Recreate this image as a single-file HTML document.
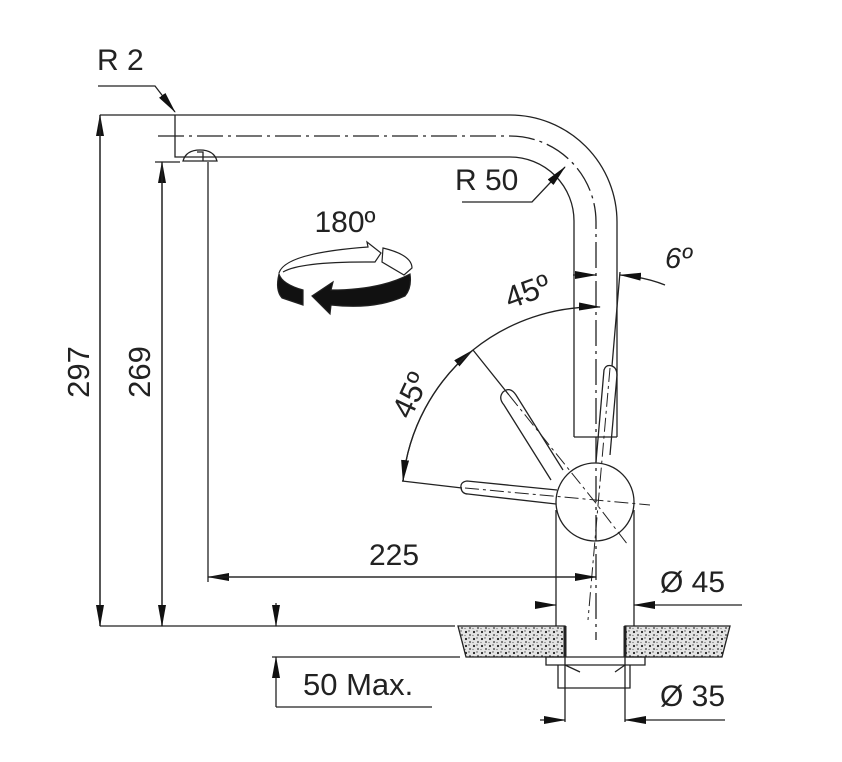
<!DOCTYPE html>
<html><head><meta charset="utf-8"><style>html,body{margin:0;padding:0;background:#fff}svg{display:block}text{font-family:"Liberation Sans",Arial,sans-serif;fill:#222}</style></head>
<body>
<svg width="842" height="762" viewBox="0 0 842 762" xmlns="http://www.w3.org/2000/svg">
<defs>
<marker id="a" markerWidth="22" markerHeight="8" refX="21" refY="4" orient="auto" markerUnits="userSpaceOnUse"><path d="M0,0 L22,4 L0,8 z" fill="#111"/></marker>
<pattern id="dots" width="8" height="7" patternUnits="userSpaceOnUse"><rect width="8" height="7" fill="#e4e4e4"/><circle cx="2" cy="2" r="1.1" fill="#222"/><circle cx="6" cy="5" r="0.9" fill="#333"/><circle cx="5" cy="1" r="0.7" fill="#555"/><circle cx="1" cy="5.5" r="0.6" fill="#666"/></pattern>
</defs>
<g stroke="#222" stroke-width="1.3" fill="none">
<path d="M175,115 L510,115 A107,107 0 0 1 617,222 L617,437"/>
<path d="M175,115 L175,157 L510,157 A64,64 0 0 1 574,221 L574,437"/>
<path d="M158,136 L510,136 A86,86 0 0 1 596,222 L596,640" stroke-dasharray="26,5,3,5"/>
<path d="M574,437 L617,437"/>
<path d="M183,161 Q186,150 200,150 Q214,150 217,161 Z"/>
<path d="M197,152 h6 v9"/>
<circle cx="595" cy="502" r="39"/>
<path d="M556,510 L556,626 M634,510 L634,626"/>
<path d="M563,470 L516,395 Q510,386 503,392 Q498,398 504,405 L551,480"/>
<path d="M509,395 L595,502 L628,545" stroke-dasharray="14,4,3,4" stroke-width="1"/>
<path d="M557,490 L467,481 Q460,482 461,488 Q462,494 468,494 L556,504"/>
<path d="M465,488 L650,505" stroke-dasharray="14,4,3,4" stroke-width="1"/>
<path d="M596,462 L604,370 Q606,364 612,366 Q617,368 617,375 L610,455"/>
<path d="M610,368 L588,620" stroke-dasharray="14,4,3,4" stroke-width="1"/>
<path d="M509,395 L473,350 M462,488 L402,481 M612,366 L620,272"/>
<path d="M403,481 A195,195 0 0 1 473,350" marker-end="url(#a)"/>
<path d="M473,350 A195,195 0 0 0 403,481" marker-end="url(#a)"/>
<path d="M473,350 A195,195 0 0 1 600,307" marker-end="url(#a)"/>
<path d="M573,275 L596,275" marker-end="url(#a)"/>
<path d="M665,285 Q645,277 620,275" marker-end="url(#a)"/>
<path d="M458,626 L565,626 L565,657 L466,657 Z" fill="url(#dots)"/>
<path d="M625,626 L730,626 L722,657 L625,657 Z" fill="url(#dots)"/>
<path d="M565,626 V657 M625,626 V657" stroke-width="3"/>
<path d="M546,657 H645 V665 H546 Z"/>
<path d="M558,665 V688 H630 V665 M565,665 L580,672 M625,665 L615,672"/>
<path d="M565,657 V722 M625,657 V722"/>
<path d="M100,626 L455,626 M100,115 L175,115 M155,162 L180,162"/>
<path d="M100,626 L100,115" marker-end="url(#a)"/>
<path d="M100,115 L100,626" marker-end="url(#a)"/>
<path d="M162,626 L162,162" marker-end="url(#a)"/>
<path d="M162,162 L162,626" marker-end="url(#a)"/>
<path d="M208,162 L208,582"/>
<path d="M596,577 L208,577" marker-end="url(#a)"/>
<path d="M208,577 L596,577" marker-end="url(#a)"/>
<path d="M535,605 L556,605" marker-end="url(#a)"/>
<path d="M742,605 L634,605" marker-end="url(#a)"/>
<path d="M540,720 L565,720" marker-end="url(#a)"/>
<path d="M725,720 L625,720" marker-end="url(#a)"/>
<path d="M276,603 L276,626" marker-end="url(#a)"/>
<path d="M276,707 L276,657" marker-end="url(#a)"/>
<path d="M272,657 L460,657 M276,707 L432,707"/>
<path d="M98,86 L155,86 L175,112" marker-end="url(#a)"/>
<path d="M462,202 L532,202 L565,167" marker-end="url(#a)"/>
</g>
<g stroke="#222" stroke-width="1.2">
<path d="M279,274 Q275,290 282,298 L303,305 L303,290 Q282,284 279,274 Z" fill="#111"/>
<path d="M312,296 L333,282 L331,290 Q380,290 410,274 Q412,288 405,296 Q375,310 331,305 L330,314 Z" fill="#111"/>
<path d="M279,273 Q285,253 368,247 L367,242 L381,253 L375,262 L365,262 Q300,262 283,272" fill="#fff"/>
<path d="M383,248 Q412,255 412,268 L404,275 L382,262 Z" fill="#fff"/>
</g>
<text x="345" y="232" font-size="30" text-anchor="middle">180º</text>
<text x="97" y="70" font-size="30">R 2</text>
<text x="455" y="190" font-size="30">R 50</text>
<text x="665" y="268" font-size="29" font-style="italic">6º</text>
<text x="527" y="302" font-size="31" text-anchor="middle" transform="rotate(-20 527 290)">45º</text>
<text x="410" y="406" font-size="31" text-anchor="middle" transform="rotate(-65 410 395)">45º</text>
<text x="394" y="565" font-size="30" text-anchor="middle">225</text>
<text x="660" y="592" font-size="30">Ø 45</text>
<text x="660" y="706" font-size="30">Ø 35</text>
<text x="303" y="695" font-size="31">50 Max.</text>
<text x="89" y="372" font-size="31" text-anchor="middle" transform="rotate(-90 89 372)">297</text>
<text x="150" y="372" font-size="31" text-anchor="middle" transform="rotate(-90 150 372)">269</text>
</svg>
</body></html>
